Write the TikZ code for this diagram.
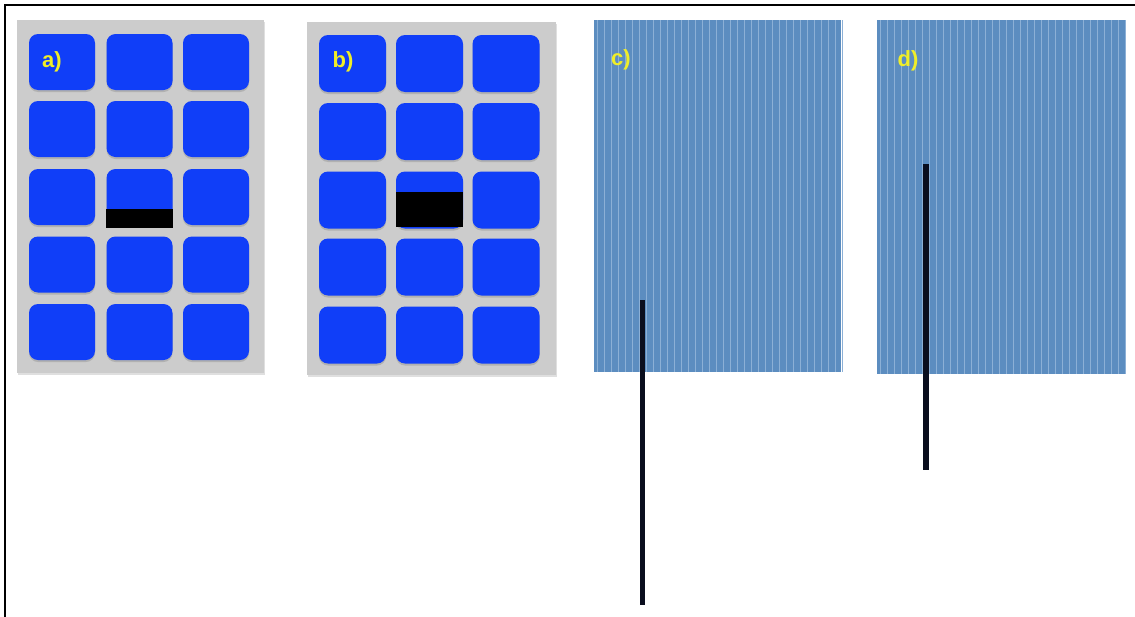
\documentclass[tikz,border=0pt]{standalone}
\usepackage{fontspec}
\setmainfont{Liberation Sans}
\usetikzlibrary{shadows}
\definecolor{tileblue}{RGB}{16,62,248}
\definecolor{panelgray}{RGB}{204,204,204}
\definecolor{stripebase}{RGB}{92,141,192}
\definecolor{stripelight}{RGB}{140,176,214}
\definecolor{labelyellow}{RGB}{240,238,40}
\definecolor{rodcolor}{RGB}{10,14,30}
\tikzset{
  panel/.style={draw=none, fill=panelgray, inner sep=0pt,
    drop shadow={shadow xshift=1pt, shadow yshift=-1.5pt, opacity=0.25}},
  tile/.style={draw=none, fill=tileblue, rounded corners=9pt, inner sep=0pt,
    drop shadow={shadow xshift=0pt, shadow yshift=-2pt, opacity=0.35}},
  tilea/.style={tile, minimum width=66pt, minimum height=56pt},
  tileb/.style={tile, minimum width=67pt, minimum height=57pt},
  striped/.style={draw=none, fill=stripebase, inner sep=0pt},
  lbl/.style={text=labelyellow, font=\bfseries\fontsize{22}{26}\selectfont, inner sep=0pt},
  rod/.style={draw=rodcolor, line width=5.5pt},
  blackbar/.style={fill=black, draw=none}
}
\begin{document}
\begin{tikzpicture}[x=1pt,y=-1pt]
\useasboundingbox (0,0) rectangle (1135,616);
\fill[white] (0,0) rectangle (1135,616);
% outer frame (top and left visible)
\draw[line width=1.6pt] (5,620) -- (5,5) -- (1140,5);

% panel a
\node[panel, minimum width=247pt, minimum height=353pt] (pa) at (140.5,196.5) {};
\foreach \c/\x in {1/62,2/139.5,3/216}{
  \foreach \r/\y in {1/62,2/129,3/197,4/264.5,5/332}{
    \node[tilea] (a\r\c) at (\x,\y) {};
  }
}
\fill[blackbar] (106,209) rectangle (173,228);
\node[lbl] (la) at (52,62) {a)};

% panel b
\node[panel, minimum width=249pt, minimum height=353pt] (pb) at (431,198.5) {};
\foreach \c/\x in {1/352.5,2/429.5,3/506}{
  \foreach \r/\y in {1/63.5,2/131.5,3/200,4/267,5/335}{
    \node[tileb] (b\r\c) at (\x,\y) {};
  }
}
\fill[blackbar] (396,192) rectangle (463,227);
\node[lbl] (lb) at (343,62) {b)};

% panel c
\node[striped, minimum width=247pt, minimum height=352pt] (pc) at (717.5,196) {};
\foreach \i in {0,...,35}{
  \draw[stripelight, line width=0.9pt] ({597+7*\i},20) -- ({597+7*\i},372);
}
\node[lbl] (lc) at (621,60) {c)};
\coordinate (ctop) at (642.5,300);
\coordinate (cbot) at (642.5,605);
\draw[rod] (ctop) -- (cbot);

% panel d
\node[striped, minimum width=248pt, minimum height=354pt] (pd) at (1001,197) {};
\foreach \i in {0,...,35}{
  \draw[stripelight, line width=0.9pt] ({880+7*\i},20) -- ({880+7*\i},374);
}
\node[lbl] (ld) at (908,61) {d)};
\coordinate (dtop) at (926,164);
\coordinate (dbot) at (926,470);
\draw[rod] (dtop) -- (dbot);
\end{tikzpicture}
\end{document}
